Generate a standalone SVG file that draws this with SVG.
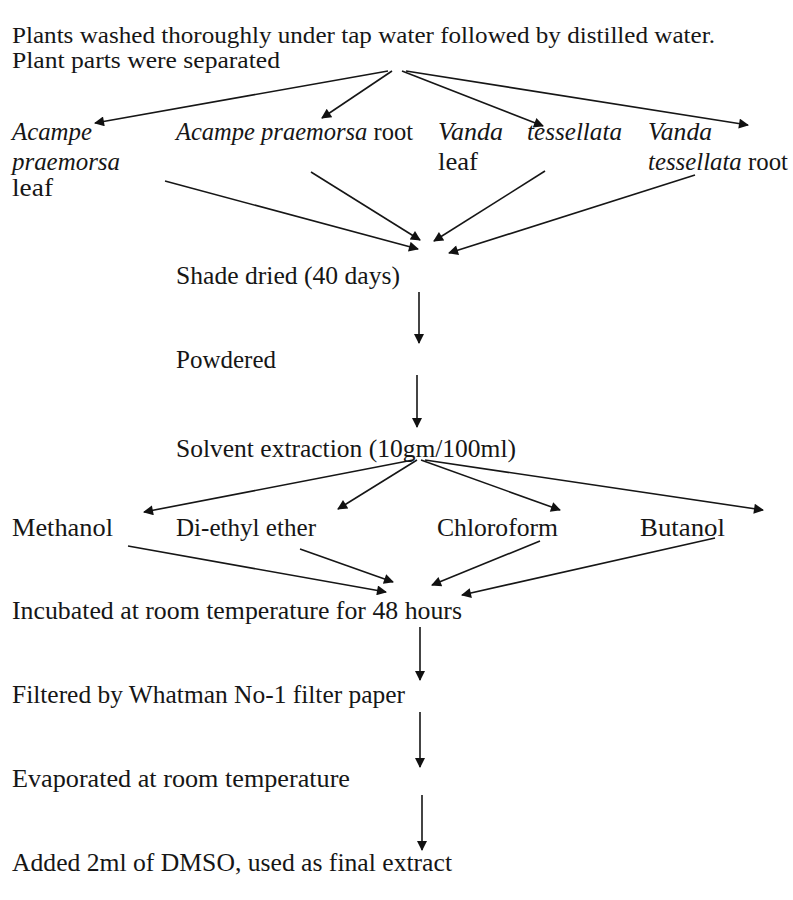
<svg xmlns="http://www.w3.org/2000/svg" width="793" height="900" viewBox="0 0 793 900">
<defs>
<marker id="ah" viewBox="0 0 10 10" refX="9" refY="5" markerWidth="12" markerHeight="10" markerUnits="userSpaceOnUse" orient="auto">
<path d="M0,0 L10,5 L0,10 z" fill="#111"/>
</marker>
<style>
text{font-family:"Liberation Serif","Times New Roman",serif;font-size:25px;fill:#161616}
.t{font-size:23px}
.i{font-style:italic}
.c line{stroke:#161616;stroke-width:1.6;marker-end:url(#ah)}
</style>
</defs>
<rect width="793" height="900" fill="#fff"/>
<g id="n-wash">
<text x="12" y="43" class="t" textLength="703" lengthAdjust="spacingAndGlyphs">Plants washed thoroughly under tap water followed by distilled water.</text>
<text x="12" y="68" class="t" textLength="268" lengthAdjust="spacingAndGlyphs">Plant parts were separated</text>
</g>
<g id="n-apleaf">
<text x="12" y="140" class="i" textLength="80" lengthAdjust="spacingAndGlyphs">Acampe</text>
<text x="12" y="170" class="i" textLength="108" lengthAdjust="spacingAndGlyphs">praemorsa</text>
<text x="12" y="196" textLength="41" lengthAdjust="spacingAndGlyphs">leaf</text>
</g>
<g id="n-aproot">
<text x="176" y="140" textLength="237" lengthAdjust="spacingAndGlyphs"><tspan class="i">Acampe praemorsa</tspan> root</text>
</g>
<g id="n-vleaf">
<text x="438" y="140" class="i" textLength="65" lengthAdjust="spacingAndGlyphs">Vanda</text>
<text x="438" y="170" textLength="40" lengthAdjust="spacingAndGlyphs">leaf</text>
<text x="527" y="140" class="i" textLength="95" lengthAdjust="spacingAndGlyphs">tessellata</text>
</g>
<g id="n-vroot">
<text x="648" y="140" class="i" textLength="64" lengthAdjust="spacingAndGlyphs">Vanda</text>
<text x="648" y="170" textLength="140" lengthAdjust="spacingAndGlyphs"><tspan class="i">tessellata</tspan> root</text>
</g>
<g id="n-shade"><text x="176" y="284" textLength="224" lengthAdjust="spacingAndGlyphs">Shade dried (40 days)</text></g>
<g id="n-powder"><text x="176" y="368" textLength="100" lengthAdjust="spacingAndGlyphs">Powdered</text></g>
<g id="n-solvent"><text x="176" y="457" textLength="340" lengthAdjust="spacingAndGlyphs">Solvent extraction (10gm/100ml)</text></g>
<g id="n-meth"><text x="12" y="536" textLength="101" lengthAdjust="spacingAndGlyphs">Methanol</text></g>
<g id="n-ether"><text x="176" y="536" textLength="140" lengthAdjust="spacingAndGlyphs">Di-ethyl ether</text></g>
<g id="n-chloro"><text x="437" y="536" textLength="121" lengthAdjust="spacingAndGlyphs">Chloroform</text></g>
<g id="n-butanol"><text x="640" y="536" textLength="85" lengthAdjust="spacingAndGlyphs">Butanol</text></g>
<g id="n-incub"><text x="12" y="619" textLength="450" lengthAdjust="spacingAndGlyphs">Incubated at room temperature for 48 hours</text></g>
<g id="n-filter"><text x="12" y="703" textLength="393" lengthAdjust="spacingAndGlyphs">Filtered by Whatman No-1 filter paper</text></g>
<g id="n-evap"><text x="12" y="787" textLength="338" lengthAdjust="spacingAndGlyphs">Evaporated at room temperature</text></g>
<g id="n-dmso"><text x="12" y="871" textLength="440" lengthAdjust="spacingAndGlyphs">Added 2ml of DMSO, used as final extract</text></g>
<g id="connectors" class="c">
<line x1="388" y1="71" x2="95" y2="123"/>
<line x1="392" y1="71" x2="322" y2="118"/>
<line x1="402" y1="71" x2="543" y2="126"/>
<line x1="406" y1="71" x2="748" y2="125"/>
<line x1="165" y1="181" x2="418" y2="249"/>
<line x1="311" y1="172" x2="420" y2="240"/>
<line x1="545" y1="171" x2="434" y2="241"/>
<line x1="695" y1="175" x2="449" y2="253"/>
<line x1="419" y1="292" x2="419" y2="343"/>
<line x1="417" y1="375" x2="417" y2="427"/>
<line x1="413" y1="460" x2="144" y2="512"/>
<line x1="417" y1="460" x2="338" y2="509"/>
<line x1="421" y1="460" x2="560" y2="510"/>
<line x1="425" y1="460" x2="763" y2="510"/>
<line x1="128" y1="546" x2="386" y2="592"/>
<line x1="300" y1="549" x2="393" y2="582"/>
<line x1="540" y1="541" x2="432" y2="585"/>
<line x1="715" y1="538" x2="462" y2="595"/>
<line x1="420" y1="627" x2="420" y2="680"/>
<line x1="420" y1="712" x2="420" y2="767"/>
<line x1="422" y1="795" x2="422" y2="850"/>
</g>
</svg>
